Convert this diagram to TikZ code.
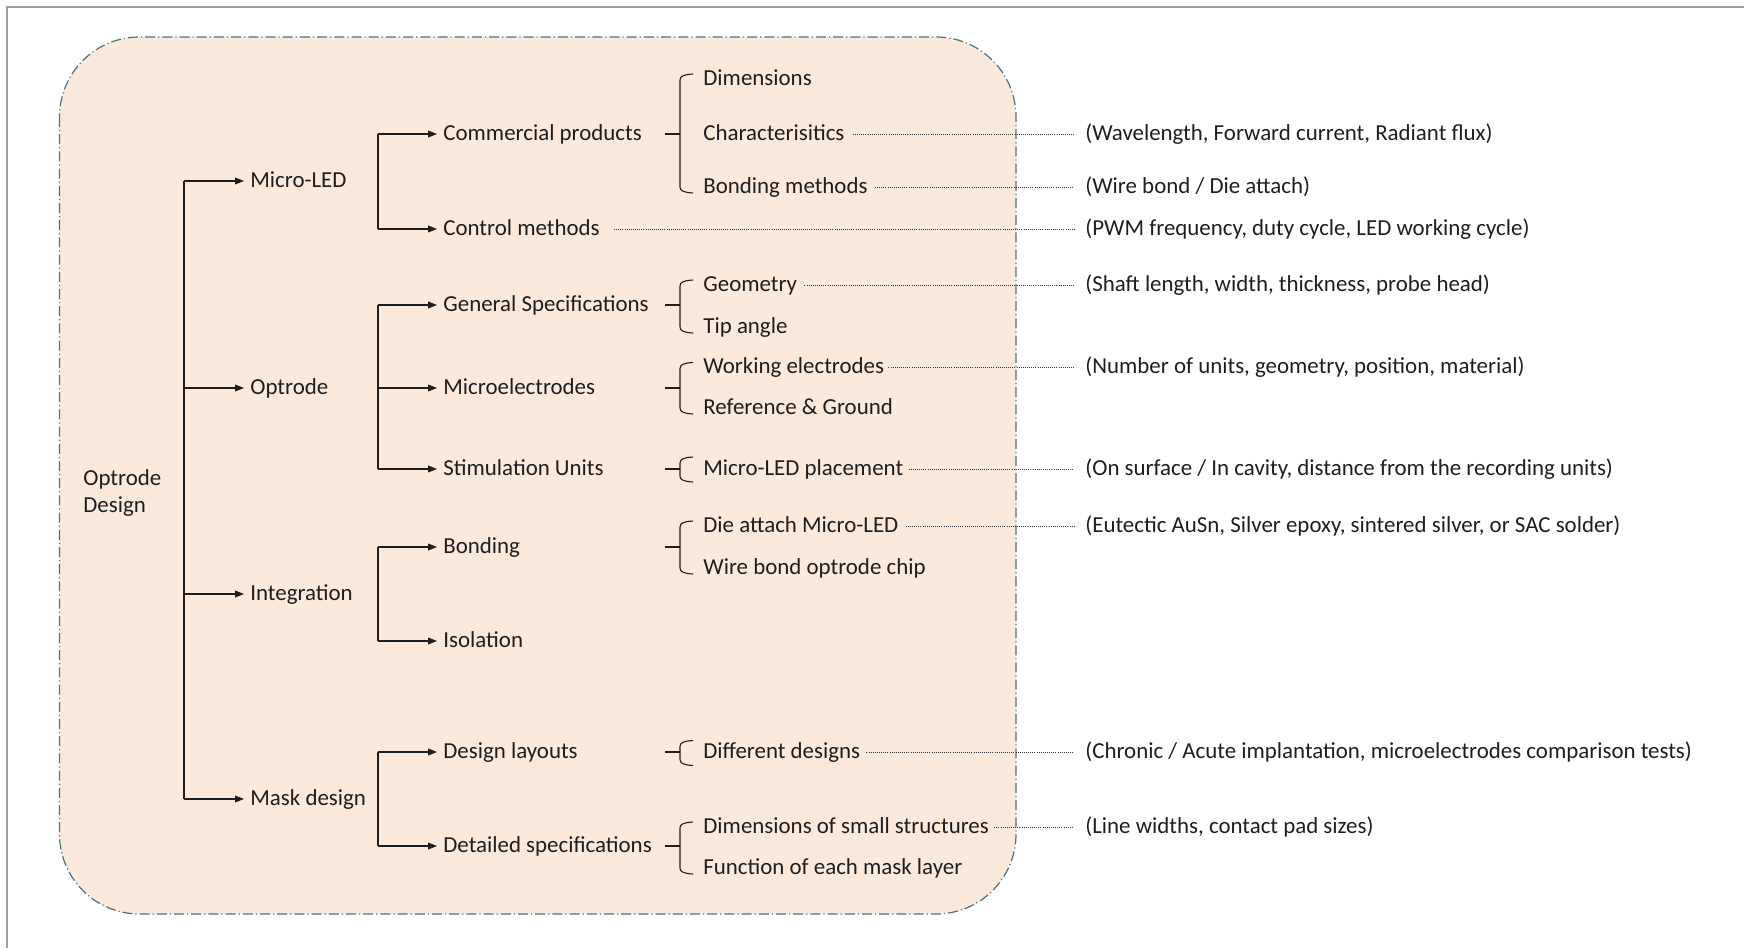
\documentclass[tikz,border=0pt]{standalone}
\usepackage{fontspec}
\setmainfont{Carlito}
\usetikzlibrary{arrows.meta,calc}
\definecolor{peach}{HTML}{FBE9DC}
\definecolor{frameblue}{HTML}{4A7480}
\definecolor{ink}{HTML}{1E1E1E}
\newcommand\brk[5]{%
  \draw[ln] (v3 |- #1) -- (v4 |- #1);
  \draw[ln] ($(v5 |- #2)+(0,-#4)$) .. controls +(-9,0.5) and +(0,-4) .. ($(v4 |- #2)+(0,-#4+6)$) -- ($(v4 |- #3)+(0,#5-6)$) .. controls +(0,4) and +(-9,-0.5) .. ($(v5 |- #3)+(0,#5)$);}
\begin{document}
\begin{tikzpicture}[x=0.5pt,y=-0.5pt,
  t/.style={anchor=west,inner sep=0pt,text height=0.84em,text depth=0.2em,font=\fontsize{11.45pt}{13.5pt}\selectfont,text=ink},
  ln/.style={draw=ink,line width=0.55pt},
  arr/.style={ln,-{Triangle[length=4.5pt,width=3.4pt]},shorten >=3pt},
  dot/.style={draw=ink!90,line width=0.5pt,dash pattern=on 0.45pt off 0.6pt,shorten >=5.5pt},
]
\useasboundingbox (0,0) rectangle (1744,948);
\draw[gray!75,line width=0.6pt] (1744,7) -- (7,7) -- (7,948);
\draw[fill=peach,draw=frameblue,line width=0.6pt,dash pattern=on 5pt off 1.5pt on 0.6pt off 1.5pt,rounded corners=40pt] (59.5,37) rectangle (1016,914);

\coordinate (v1) at (184,0);
\coordinate (v2) at (378,0);
\coordinate (v3) at (665,0);
\coordinate (v4) at (680,0);
\coordinate (v5) at (693,0);

% root
\node[anchor=base west,inner sep=0pt,align=left,font=\fontsize{11.45pt}{13.5pt}\selectfont,text=ink] (root) at (83,512) {Optrode\\Design};

% level 1
\node[t] (n1) at (250,181) {Micro-LED};
\node[t] (n2) at (250,388) {Optrode};
\node[t] (n3) at (250,594) {Integration};
\node[t] (n4) at (250,799) {Mask design};

% level 2
\node[t] (cp) at (443,134) {Commercial products};
\node[t] (cm) at (443,229) {Control methods};
\node[t] (gs) at (443,305) {General Specifications};
\node[t] (me) at (443,388) {Microelectrodes};
\node[t] (su) at (443,469) {Stimulation Units};
\node[t] (bo) at (443,547) {Bonding};
\node[t] (is) at (443,641) {Isolation};
\node[t] (dl) at (443,752) {Design layouts};
\node[t] (ds) at (443,846) {Detailed specifications};

% level 3
\node[t] (dim) at (703,79) {Dimensions};
\node[t] (cha) at (703,134) {Characterisitics};
\node[t] (bm) at (703,187) {Bonding methods};
\node[t] (geo) at (703,285) {Geometry};
\node[t] (tip) at (703,327) {Tip angle};
\node[t] (we) at (703,367.5) {Working electrodes};
\node[t] (rg) at (703,408) {Reference \& Ground};
\node[t] (mlp) at (703,469) {Micro-LED placement};
\node[t] (da) at (703,526) {Die attach Micro-LED};
\node[t] (wb) at (703,568) {Wire bond optrode chip};
\node[t] (dd) at (703,752.5) {Different designs};
\node[t] (dss) at (703,827) {Dimensions of small structures};
\node[t] (fml) at (703,868) {Function of each mask layer};

% right column
\node[t] (r1) at (1085,134) {(Wavelength, Forward current, Radiant flux)};
\node[t] (r2) at (1085,187) {(Wire bond / Die attach)};
\node[t] (r3) at (1085,229) {(PWM frequency, duty cycle, LED working cycle)};
\node[t] (r4) at (1085,285) {(Shaft length, width, thickness, probe head)};
\node[t] (r5) at (1085,367.5) {(Number of units, geometry, position, material)};
\node[t] (r6) at (1085,469) {(On surface / In cavity, distance from the recording units)};
\node[t] (r7) at (1085,526) {(Eutectic AuSn, Silver epoxy, sintered silver, or SAC solder)};
\node[t] (r8) at (1085,752.5) {(Chronic / Acute implantation, microelectrodes comparison tests)};
\node[t] (r9) at (1085,827) {(Line widths, contact pad sizes)};

% trunk
\draw[ln] (v1 |- n1) -- (v1 |- n4);
\foreach \n in {n1,n2,n3,n4} \draw[arr] (v1 |- \n) -- (\n);

% level 2 connectors
\draw[ln] (v2 |- cp) -- (v2 |- cm);
\draw[ln] (v2 |- gs) -- (v2 |- su);
\draw[ln] (v2 |- bo) -- (v2 |- is);
\draw[ln] (v2 |- dl) -- (v2 |- ds);
\foreach \n in {cp,cm,gs,me,su,bo,is,dl,ds} \draw[arr] (v2 |- \n) -- (\n);

% brackets
\brk{cp}{dim}{bm}{5}{6}
\brk{gs}{geo}{tip}{5}{6}
\brk{me}{we}{rg}{5}{6}
\brk{su}{mlp}{mlp}{12}{13}
\brk{bo}{da}{wb}{5}{6}
\brk{dl}{dd}{dd}{12}{13}
\brk{ds}{dss}{fml}{5}{6}

% dotted leaders
\draw[dot] ([xshift=4pt]cha.east) -- (r1);
\draw[dot] ([xshift=3.5pt]bm.east) -- (r2);
\draw[dot] ([xshift=7pt]cm.east) -- (r3);
\draw[dot] ([xshift=3.5pt]geo.east) -- (r4);
\draw[dot] ([xshift=2pt]we.east) -- (r5);
\draw[dot] ([xshift=2.5pt]mlp.east) -- (r6);
\draw[dot] ([xshift=3.5pt]da.east) -- (r7);
\draw[dot] ([xshift=3pt]dd.east) -- (r8);
\draw[dot] ([xshift=2.5pt]dss.east) -- (r9);
\end{tikzpicture}
\end{document}
